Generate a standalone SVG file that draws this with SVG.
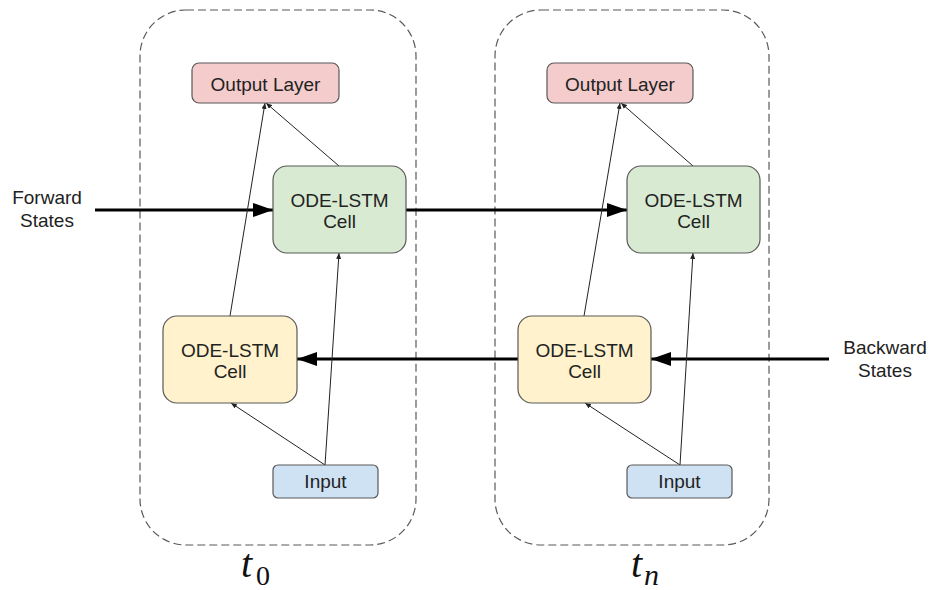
<svg xmlns="http://www.w3.org/2000/svg" width="929" height="590" viewBox="0 0 929 590">
  <style>
    .frame { fill: none; stroke: #595959; stroke-width: 1.2; stroke-dasharray: 8 4; }
    .box { stroke: #595959; stroke-width: 1.2; }
    .out { fill: #f4cccc; }
    .fwd { fill: #d9ead3; }
    .bwd { fill: #fff2cc; }
    .inp { fill: #cfe2f3; }
    .lbl { font-family: "Liberation Sans", Arial, sans-serif; font-size: 19px; fill: #222; text-anchor: middle; }
    .thick { stroke: #000; stroke-width: 3; fill: none; marker-end: url(#big); }
    .thin { stroke: #222; stroke-width: 1; fill: none; marker-end: url(#small); }
    .time { font-family: "Liberation Serif", "Times New Roman", serif; font-style: italic; font-size: 40px; fill: #111; }
    .sub { font-family: "Liberation Serif", "Times New Roman", serif; font-size: 28px; fill: #111; }
  </style>
  <defs>
    <marker id="big" markerUnits="userSpaceOnUse" markerWidth="20" markerHeight="14" refX="20" refY="7" orient="auto">
      <path d="M0,0 L20,7 L0,14 Z" fill="#000"/>
    </marker>
    <marker id="small" markerUnits="userSpaceOnUse" markerWidth="6" markerHeight="5" refX="6" refY="2.5" orient="auto">
      <path d="M0,0 L6,2.5 L0,5 Z" fill="#222"/>
    </marker>
  </defs>

  <rect width="929" height="590" fill="#fff"/>

  <!-- time-step frames -->
  <g id="frame-t0">
    <rect class="frame" x="140" y="10" width="276" height="535" rx="46"/>
    <text class="time" x="241" y="577">t</text><text class="sub" x="256" y="585">0</text>
  </g>
  <g id="frame-tn">
    <rect class="frame" x="495" y="10" width="274" height="535" rx="46"/>
    <text class="time" x="631" y="577">t</text><text class="time" style="font-size:30px" x="644" y="585">n</text>
  </g>

  <!-- connectors -->
  <g id="connectors">
    <line class="thick" x1="95" y1="210" x2="273" y2="210"/>
    <line class="thick" x1="406" y1="210" x2="627" y2="210"/>
    <line class="thick" x1="829" y1="359" x2="651" y2="359"/>
    <line class="thick" x1="518" y1="359" x2="297" y2="359"/>

    <line class="thin" x1="230" y1="316" x2="265" y2="103"/>
    <line class="thin" x1="339" y1="166" x2="266" y2="103"/>
    <line class="thin" x1="325" y1="465" x2="339" y2="253"/>
    <line class="thin" x1="325" y1="465" x2="231" y2="403"/>

    <line class="thin" x1="584" y1="316" x2="620" y2="103"/>
    <line class="thin" x1="693" y1="166" x2="621" y2="103"/>
    <line class="thin" x1="680" y1="465" x2="693" y2="253"/>
    <line class="thin" x1="680" y1="465" x2="585" y2="403"/>
  </g>

  <!-- side labels -->
  <g id="forward-states">
    <text class="lbl" x="47" y="204">Forward</text>
    <text class="lbl" x="47" y="227">States</text>
  </g>
  <g id="backward-states">
    <text class="lbl" x="885" y="354">Backward</text>
    <text class="lbl" x="885" y="377">States</text>
  </g>

  <!-- t0 nodes -->
  <g id="output-t0">
    <rect class="box out" x="192" y="63" width="147" height="40" rx="7"/>
    <text class="lbl" x="265.5" y="91">Output Layer</text>
  </g>
  <g id="forward-cell-t0">
    <rect class="box fwd" x="273" y="166" width="133" height="87" rx="14"/>
    <text class="lbl" x="339.5" y="207">ODE-LSTM</text>
    <text class="lbl" x="339.5" y="228">Cell</text>
  </g>
  <g id="backward-cell-t0">
    <rect class="box bwd" x="163" y="316" width="134" height="87" rx="14"/>
    <text class="lbl" x="230" y="357">ODE-LSTM</text>
    <text class="lbl" x="230" y="378">Cell</text>
  </g>
  <g id="input-t0">
    <rect class="box inp" x="273" y="465" width="105" height="33" rx="5"/>
    <text class="lbl" x="325.5" y="488">Input</text>
  </g>

  <!-- tn nodes -->
  <g id="output-tn">
    <rect class="box out" x="547" y="63" width="146" height="40" rx="7"/>
    <text class="lbl" x="620" y="91">Output Layer</text>
  </g>
  <g id="forward-cell-tn">
    <rect class="box fwd" x="627" y="166" width="133" height="87" rx="14"/>
    <text class="lbl" x="693.5" y="207">ODE-LSTM</text>
    <text class="lbl" x="693.5" y="228">Cell</text>
  </g>
  <g id="backward-cell-tn">
    <rect class="box bwd" x="518" y="316" width="133" height="87" rx="14"/>
    <text class="lbl" x="584.5" y="357">ODE-LSTM</text>
    <text class="lbl" x="584.5" y="378">Cell</text>
  </g>
  <g id="input-tn">
    <rect class="box inp" x="627" y="465" width="105" height="33" rx="5"/>
    <text class="lbl" x="679.5" y="488">Input</text>
  </g>
</svg>
